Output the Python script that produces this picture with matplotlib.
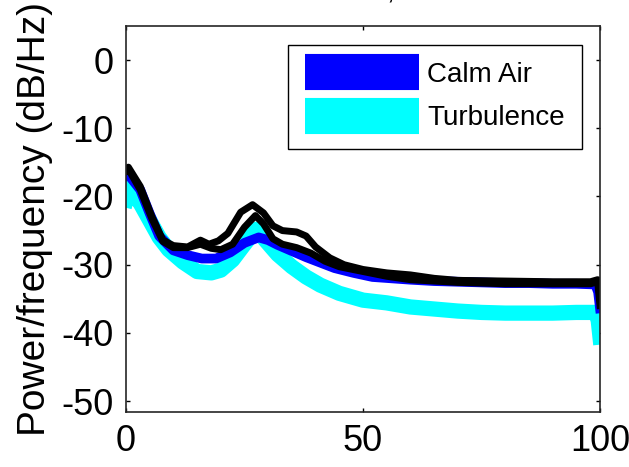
import matplotlib
matplotlib.use("Agg")
import matplotlib.pyplot as plt
from matplotlib.lines import Line2D

# Power spectral density traces (freq in Hz, dB/Hz)
calm_freq = [0, 0.5, 3, 5, 7, 10, 13, 16, 19, 22, 25, 28, 30, 32, 35, 38, 41, 44,
             48, 52, 56, 60, 65, 70, 75, 80, 85, 90, 95, 99, 99.6, 100]
calm_psd = [-17, -16.8, -19, -22.5, -25.8, -27.9, -28.6, -29.1, -29.1, -28.2, -26.8,
            -26, -26.4, -27.1, -28, -28.9, -29.7, -30.5, -31.2, -31.8, -32, -32.2,
            -32.4, -32.5, -32.6, -32.7, -32.7, -32.8, -32.8, -32.9, -34, -36.4]

turb_freq = [0, 0.6, 3, 5, 7, 9, 12, 15, 18, 20, 22.5, 25, 27.5, 29.5, 32, 35, 38,
             41, 45, 50, 55, 60, 65, 70, 75, 80, 85, 90, 95, 99, 99.6, 100]
turb_psd = [-20.5, -18.8, -21, -23.5, -26, -27.8, -29.6, -31, -31.2, -30.8, -29.3,
            -27, -24.8, -26.5, -28.5, -30.3, -31.8, -33, -34.2, -35.2, -35.6, -36.2,
            -36.5, -36.8, -37, -37.1, -37.1, -37.1, -37, -37, -38, -40.6]

ref_a_freq = [0, 0.5, 3, 5.5, 7.8, 10, 13, 15.7, 17.5, 19.5, 21.5, 24.2, 26.7, 29,
              31, 33, 36, 38, 40, 43, 46, 50, 55, 60, 65, 70, 80, 90, 98, 99.5, 100]
ref_a_psd = [-16, -15.7, -18.5, -23, -26.4, -27.2, -27.4, -26.4, -27, -26.5, -25.4,
             -22.3, -21.2, -22.4, -24.3, -25, -25.2, -25.8, -27.4, -29, -30, -30.7,
             -31.2, -31.5, -32, -32.3, -32.4, -32.5, -32.5, -32.2, -35]

ref_b_freq = [0, 0.5, 3, 5.5, 7.8, 10, 13, 15.7, 18, 20, 22.5, 25, 27.3, 29, 31, 33,
              36, 39, 42, 45, 50, 55, 60, 70, 80, 90, 98, 99.5, 100]
ref_b_psd = [-16.3, -16, -19, -23.3, -26.6, -27.5, -27.5, -27, -27.6, -27.8, -27,
             -24.5, -22.8, -24, -26.2, -27, -27.5, -28.3, -29.5, -30.3, -31, -31.7,
             -32.2, -32.6, -32.8, -32.8, -32.8, -32.5, -36]

legend_labels = ["Calm Air", "Turbulence"]
xticks = [0, 50, 100]
yticks = [0, -10, -20, -30, -40, -50]

plt.rcParams["font.family"] = ["Liberation Sans", "DejaVu Sans"]
plt.rcParams["axes.unicode_minus"] = False

fig = plt.figure(figsize=(6.29, 4.67), dpi=100)
ax = fig.add_axes([0.2003, 0.1178, 0.7536, 0.8265])

ax.plot(turb_freq, turb_psd, color="cyan", lw=11, solid_joinstyle="round")
ax.plot(calm_freq, calm_psd, color="blue", lw=7, solid_joinstyle="round")
ax.plot(ref_b_freq, ref_b_psd, color="black", lw=5, solid_joinstyle="round")
ax.plot(ref_a_freq, ref_a_psd, color="black", lw=5, solid_joinstyle="round")

ax.set_xlim(0, 100)
ax.set_ylim(-51.6, 5)
ax.set_xticks(xticks)
ax.set_yticks(yticks)
ax.tick_params(direction="in", length=3, width=1, labelsize=26, pad=9,
               top=True, right=True)
for s in ax.spines.values():
    s.set_linewidth(1.2)
    s.set_color("#262626")

ax.set_ylabel("Power/frequency (dB/Hz)", fontsize=28, labelpad=6)

handles = [Line2D([], [], color="blue", lw=26, solid_capstyle="butt"),
           Line2D([], [], color="cyan", lw=26, solid_capstyle="butt")]
leg = ax.legend(handles, legend_labels, loc="upper right",
                bbox_to_anchor=(0.962, 0.951), borderaxespad=0, fontsize=20,
                handlelength=4.1, handletextpad=0.3, labelspacing=0.62,
                borderpad=0.62, fancybox=False, framealpha=1, edgecolor="black")
leg.get_frame().set_linewidth(1)

# title is mostly cut off at the top edge of the original image
fig.text(0.605, 1 + 1 / 467, "Roll Rate, Lateral", ha="center",
         va="baseline", fontsize=20)

fig.savefig("out.png", dpi=100)
